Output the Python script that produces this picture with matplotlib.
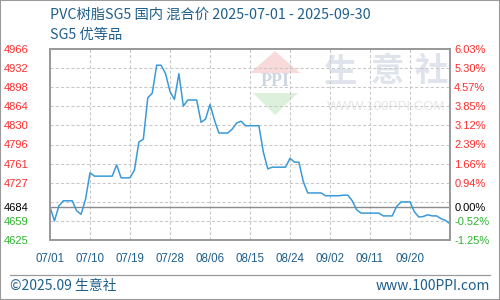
import numpy as np
import pandas as pd
import matplotlib
matplotlib.use("Agg")
import matplotlib.pyplot as plt
from matplotlib.patches import Polygon, Rectangle
from matplotlib.lines import Line2D

# daily price, 2025-07-01 onward
start = "2025-07-01"
prices = [
    4684, 4659, 4686, 4695, 4695, 4695, 4677, 4671, 4698, 4745,
    4739, 4739, 4739, 4739, 4739, 4759, 4736, 4736, 4736, 4750,
    4800, 4805, 4879, 4887, 4937, 4937, 4922, 4890, 4876, 4922,
    4864, 4875, 4875, 4875, 4835, 4841, 4867, 4839, 4816, 4816,
    4816, 4823, 4834, 4837, 4829, 4829, 4829, 4829, 4782, 4752,
    4755, 4755, 4755, 4755, 4771, 4764, 4764, 4729, 4709, 4709,
    4709, 4709, 4704, 4704, 4704, 4704, 4705, 4705, 4695, 4679,
    4673, 4673, 4673, 4673, 4673, 4668, 4668, 4668, 4685, 4693,
    4693, 4693, 4675, 4666, 4667, 4670, 4668, 4668, 4663, 4660,
    4654,
]
base = 4684
y_min, y_max = 4625, 4966
left_labels = ["4625", "4659", "4684", "4727", "4761", "4796",
               "4830", "4864", "4898", "4932", "4966"]
pct_labels = ["-1.25%", "-0.52%", "0.00%", "0.94%", "1.66%", "2.39%",
              "3.12%", "3.85%", "4.57%", "5.30%", "6.03%"]
x_labels = ["07/01", "07/10", "07/19", "07/28", "08/06",
            "08/15", "08/24", "09/02", "09/11", "09/20"]
title1 = "PVC树脂SG5 国内 混合价 2025-07-01 - 2025-09-30"
title2 = "SG5 优等品"

RED, GREEN, BLACK = "#ff2b2b", "#2db52d", "#000000"
BLUE_TXT = "#1f5f8c"
CJK = ["Noto Sans CJK SC", "DejaVu Sans"]
plt.rcParams["font.family"] = ["Liberation Sans", "Noto Sans CJK SC"]


def fx(x):
    return x / 500


def fy(y):
    return 1 - y / 300


fig = plt.figure(figsize=(5, 3), dpi=100)
ax = fig.add_axes([fx(50), fy(240), 0.8, (240 - 49) / 300])

dates = pd.date_range(start, periods=len(prices), freq="D")
ax.plot(dates, prices, color="#3a9ad9", lw=1.1, zorder=4)
ax.set_xlim(dates[0], dates[-1])
ax.set_ylim(y_min, y_max)

levels = np.linspace(y_min, y_max, len(left_labels))
for v in levels[1:-1]:
    ax.axhline(v, color="#c8c8c8", lw=0.75, ls=(0, (3, 2)), zorder=1)
xticks = dates[::9][:len(x_labels)]
for d in xticks[1:]:
    ax.axvline(d, color="#c8c8c8", lw=0.75, ls=(0, (3, 2)), zorder=1)
ax.axhline(base, color="#8c8c8c", lw=1.0, zorder=2)

label_pos = levels.copy()
label_pos[2] = base
colors = [GREEN, GREEN, BLACK] + [RED] * 8

ax.set_yticks(label_pos)
ax.set_yticklabels(left_labels, fontsize=8)
ax.tick_params(axis="y", length=0, pad=15.5)
for t, c in zip(ax.get_yticklabels(), colors):
    t.set_color(c)

ax.set_xticks(xticks)
ax.set_xticklabels(x_labels, fontsize=8.3, color=BLUE_TXT)
ax.tick_params(axis="x", length=0, pad=9)

ax2 = ax.twinx()
ax2.set_ylim(y_min, y_max)
ax2.set_yticks(label_pos)
ax2.set_yticklabels(pct_labels, fontsize=8)
ax2.tick_params(axis="y", length=0, pad=3)
for t, c in zip(ax2.get_yticklabels(), colors):
    t.set_color(c)

for a in (ax, ax2):
    for s in a.spines.values():
        s.set_color("#9a9a9a")
        s.set_linewidth(1.3)

# watermark
wm = dict(transform=fig.transFigure, zorder=0, ha="center", va="center")
ax.add_patch(Polygon([(fx(275), fy(51)), (fx(250), fy(73)), (fx(300), fy(73))],
                     closed=True, transform=fig.transFigure,
                     color="#f9dada", lw=0, zorder=0))
ax.add_patch(Polygon([(fx(253), fy(93)), (fx(298), fy(93)), (fx(275), fy(115))],
                     closed=True, transform=fig.transFigure,
                     color="#dcf0dc", lw=0, zorder=0))
ax.text(fx(275), fy(81), "PPI", fontsize=13, fontweight="bold",
        color="#cdd4e3", family="Liberation Serif", **wm)
for ch, x in zip("生意社", (341, 387, 431)):
    ax.text(fx(x), fy(72), ch, fontsize=24, fontweight="bold",
            color="#dfe3ec", family=CJK, **wm)
ax.text(fx(386), fy(107), "WWW.100PPI.COM", fontsize=9.5,
        color="#e6e6e6", family="Liberation Sans", **wm)

# titles
fig.text(fx(50), fy(15), title1, fontsize=10.3, color=BLUE_TXT,
         family=CJK, ha="left", va="center")
fig.text(fx(50), fy(35), title2, fontsize=10.3, color=BLUE_TXT,
         family=CJK, ha="left", va="center")

# footer
fig.add_artist(Line2D([fx(10), fx(490)], [fy(275), fy(275)],
                      color="#9a9a9a", lw=0.9))
fig.text(fx(10), fy(286), "©2025.09 生意社", fontsize=10, color=BLUE_TXT,
         family=CJK, ha="left", va="center")
fig.text(fx(490), fy(286), "www.100PPI.com", fontsize=10, color=BLUE_TXT,
         family=CJK, ha="right", va="center")

fig.patches.append(Rectangle((0, 0), 1, 1, transform=fig.transFigure,
                             fill=False, edgecolor="#9a9a9a", lw=1.5))

fig.savefig("out.png", dpi=100, facecolor="white")
